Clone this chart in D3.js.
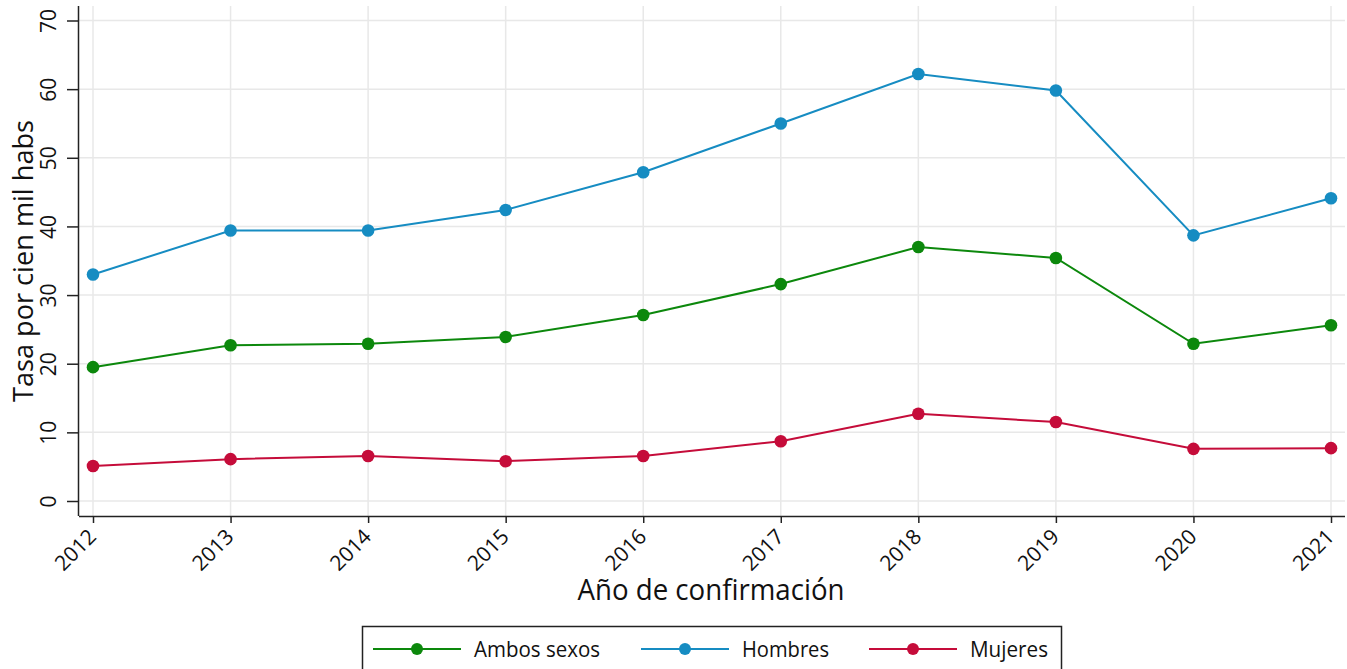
<!DOCTYPE html>
<html>
<head>
<meta charset="utf-8">
<script src="https://cdn.jsdelivr.net/npm/d3@7"></script>
<style>
  body { margin: 0; background: #fff; }
  svg { display: block; }
  text { font-family: "Open Sans", "Noto Sans", sans-serif; fill: #111; }
</style>
</head>
<body>
<div id="chart"></div>
<script>
const years = [2012, 2013, 2014, 2015, 2016, 2017, 2018, 2019, 2020, 2021];
const ambos = [19.5, 22.7, 22.9, 23.9, 27.1, 31.6, 37.0, 35.4, 22.9, 25.6];
const hombres = [33.0, 39.4, 39.4, 42.4, 47.9, 55.0, 62.2, 59.8, 38.7, 44.1];
const mujeres = [5.1, 6.1, 6.55, 5.8, 6.55, 8.7, 12.7, 11.5, 7.6, 7.7];
const yTicks = [0, 10, 20, 30, 40, 50, 60, 70];
const seriesNames = ['Ambos sexos', 'Hombres', 'Mujeres'];

const colors = { 'Ambos sexos': '#0c880c', 'Hombres': '#168cc2', 'Mujeres': '#c50c3a' };

const W = 1347, H = 669;
const plot = { left: 79, right: 1345, top: 6, bottom: 516 };

const svg = d3.select('#chart').append('svg')
    .attr('width', W)
    .attr('height', H);

const x = d3.scaleLinear().domain([2012, 2021]).range([93, 1331]);
const y = d3.scaleLinear().domain([0, 70]).range([501, 20.5]);

// grid
svg.append('g').selectAll('line.vg')
    .data(years)
    .join('line')
    .attr('x1', d => x(d)).attr('x2', d => x(d))
    .attr('y1', plot.top).attr('y2', plot.bottom)
    .attr('stroke', '#e8e8e8').attr('stroke-width', 1.5);

svg.append('g').selectAll('line.hg')
    .data(yTicks)
    .join('line')
    .attr('x1', plot.left).attr('x2', plot.right)
    .attr('y1', d => y(d)).attr('y2', d => y(d))
    .attr('stroke', '#e8e8e8').attr('stroke-width', 1.5);

// axes
const xAxis = d3.axisBottom(x).tickValues(years).tickFormat(d3.format('d')).tickSize(7).tickSizeOuter(0);
const gx = svg.append('g').attr('transform', `translate(0,${plot.bottom})`).call(xAxis);
gx.attr('font-size', null);
gx.select('.domain').attr('d', `M${plot.left},0.5H${plot.right}`).attr('stroke', '#222').attr('stroke-width', 1.5);
gx.selectAll('.tick line').attr('stroke', '#222').attr('stroke-width', 1.5);
gx.selectAll('.tick text')
    .style('font-size', '21px')
    .attr('text-anchor', 'end')
    .attr('y', 0).attr('dy', 0)
    .attr('transform', 'translate(4,22) rotate(-45)');

const yAxis = d3.axisLeft(y).tickValues(yTicks).tickSize(12).tickSizeOuter(0);
const gy = svg.append('g').attr('transform', `translate(${plot.left},0)`).call(yAxis);
gy.attr('font-size', null);
gy.select('.domain').attr('d', `M-0.5,${plot.top}V${plot.bottom}`).attr('stroke', '#222').attr('stroke-width', 1.5);
gy.selectAll('.tick line').attr('stroke', '#222').attr('stroke-width', 1.5);
gy.selectAll('.tick text')
    .style('font-size', '21px')
    .attr('x', 0).attr('dy', 0)
    .attr('text-anchor', 'middle')
    .attr('transform', 'translate(-23,0) rotate(-90)');

// axis titles
svg.append('text')
    .attr('x', 711).attr('y', 600)
    .attr('text-anchor', 'middle')
    .style('font-size', '29px')
    .attr('textLength', 267).attr('lengthAdjust', 'spacingAndGlyphs')
    .text('Año de confirmación');

svg.append('text')
    .attr('transform', 'translate(33,261) rotate(-90)')
    .attr('text-anchor', 'middle')
    .style('font-size', '28px')
    .attr('textLength', 282).attr('lengthAdjust', 'spacingAndGlyphs')
    .text('Tasa por cien mil habs');

// series
const data = [
    { name: 'Ambos sexos', values: ambos },
    { name: 'Hombres', values: hombres },
    { name: 'Mujeres', values: mujeres }
];

const line = d3.line().x((d, i) => x(years[i])).y(d => y(d));

const gs = svg.append('g').selectAll('g.series')
    .data(data)
    .join('g')
    .attr('class', 'series');

gs.append('path')
    .attr('d', d => line(d.values))
    .attr('fill', 'none')
    .attr('stroke', d => colors[d.name])
    .attr('stroke-width', 2);

gs.selectAll('circle')
    .data(d => d.values.map((v, i) => ({ v, i, name: d.name })))
    .join('circle')
    .attr('cx', d => x(years[d.i]))
    .attr('cy', d => y(d.v))
    .attr('r', 6.3)
    .attr('fill', d => colors[d.name]);

// legend
const legend = svg.append('g');
legend.append('rect')
    .attr('x', 362.5).attr('y', 626.5)
    .attr('width', 699).attr('height', 60)
    .attr('fill', '#fff').attr('stroke', '#222').attr('stroke-width', 1.5);

const legendX = [373, 641, 869];
const legendTextW = [126, 87, 78];
seriesNames.forEach((name, i) => {
    const g = legend.append('g').attr('transform', `translate(${legendX[i]},649)`);
    g.append('line').attr('x1', 0).attr('x2', 88).attr('y1', 0).attr('y2', 0)
        .attr('stroke', colors[name]).attr('stroke-width', 2);
    g.append('circle').attr('cx', 44).attr('cy', 0).attr('r', 6).attr('fill', colors[name]);
    g.append('text').attr('x', 101).attr('y', 8)
        .style('font-size', '22px')
        .attr('textLength', legendTextW[i]).attr('lengthAdjust', 'spacingAndGlyphs')
        .text(name);
});
</script>
</body>
</html>
